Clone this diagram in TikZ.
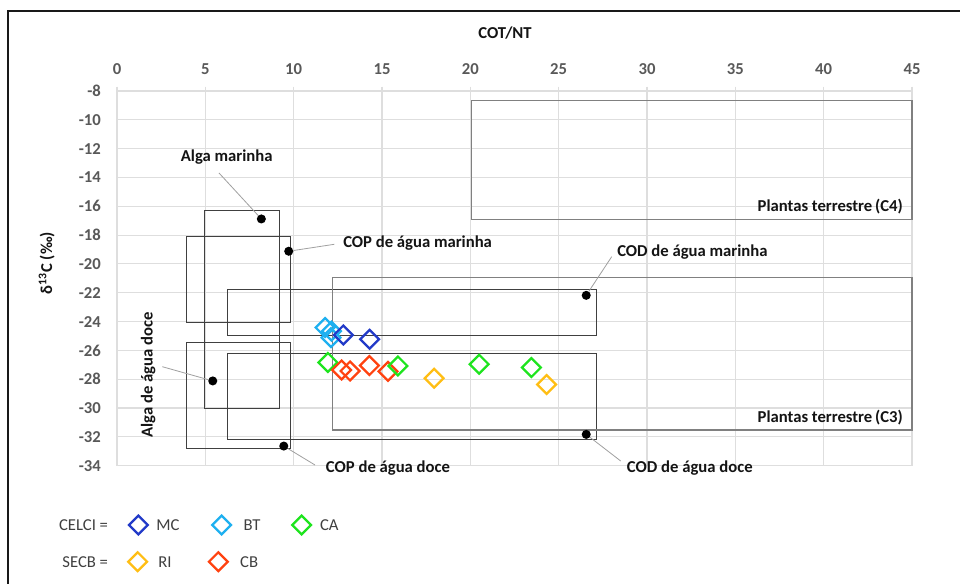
\documentclass[tikz,border=0pt]{standalone}
\usepackage{fontspec}
\setmainfont{Carlito}
\usetikzlibrary{shapes.geometric}
\definecolor{gridc}{RGB}{222,222,222}
\definecolor{tickc}{RGB}{89,89,89}
\definecolor{leadc}{RGB}{160,160,160}
\definecolor{mcc}{RGB}{34,58,200}
\definecolor{btc}{RGB}{30,176,240}
\definecolor{cac}{RGB}{30,228,30}
\definecolor{ric}{RGB}{255,190,20}
\definecolor{cbc}{RGB}{255,66,16}
\tikzset{
  gridline/.style={draw=gridc, line width=0.8pt},
  srcbox/.style={draw=black!75, line width=0.75pt},
  plantbox/.style={draw=black!50, line width=1.1pt},
  dot/.style={circle, fill=black, inner sep=0pt, minimum size=6.8pt},
  leader/.style={draw=leadc, line width=0.6pt},
  lab/.style={font=\fontsize{12.5}{15}\selectfont\bfseries, text=black!92, inner sep=0pt},
  tick/.style={font=\fontsize{12.5}{15}\selectfont\bfseries, text=tickc, inner sep=0pt},
  leglab/.style={font=\fontsize{12.5}{15}\selectfont, text=black!75, inner sep=0pt},
  diam/.style={diamond, aspect=1, inner sep=0pt, minimum width=14.8pt, minimum height=14.8pt, line width=1.7pt, fill=none},
}
\begin{document}
\begin{tikzpicture}[x=0.75pt, y=-0.75pt]
\useasboundingbox (0,0) rectangle (960,584);
\fill[white] (0,0) rectangle (960,584);
% outer frame
\draw[line width=1.6pt, black!90] (8,584) -- (8,11) -- (960,11);

% plot in data coordinates: x = COT/NT, y = delta13C
\begin{scope}[shift={(117,-24.28)}, x=13.25pt, y=10.8075pt]
  \foreach \gx in {0,5,...,45} \draw[gridline] (\gx,-7.7) -- (\gx,-34);
  \foreach \gy in {-8,-10,...,-34} \draw[gridline] (0,\gy) -- (45,\gy);
  \foreach \gx in {0,5,...,45} \node[tick] (xt\gx) at (\gx,-6.47) {\gx};
  \foreach \gy in {-8,-10,...,-34} \node[tick, anchor=east] (yt\gy) at (-0.9,\gy) {\gy};

  % source ranges
  \draw[plantbox] (20.08,-8.67) rectangle (45,-16.9);
  \draw[srcbox] (4.94,-16.28) rectangle (9.19,-30.0);
  \draw[srcbox] (3.92,-18.13) rectangle (9.83,-24.05);
  \draw[srcbox] (3.92,-25.47) rectangle (9.83,-32.82);
  \draw[srcbox] (6.23,-21.76) rectangle (27.14,-24.95);
  \draw[srcbox] (6.23,-26.2) rectangle (27.14,-32.17);
  \draw[plantbox] (12.19,-20.96) rectangle (45,-31.53);

  % end-member means
  \node[dot] (am)  at (8.17,-16.88) {};
  \node[dot] (cpm) at (9.72,-19.12) {};
  \node[dot] (cdm) at (26.56,-22.18) {};
  \node[dot] (ad)  at (5.42,-28.12) {};
  \node[dot] (cpd) at (9.44,-32.64) {};
  \node[dot] (cdd) at (26.56,-31.83) {};

  % samples
  \node[diam, draw=btc] (bt1) at (11.78,-24.42) {};
  \node[diam, draw=btc] (bt2) at (12.14,-24.66) {};
  \node[diam, draw=btc] (bt3) at (12.11,-25.11) {};
  \node[diam, draw=mcc] (mc1) at (12.81,-24.93) {};
  \node[diam, draw=mcc] (mc2) at (14.3,-25.23) {};
  \node[diam, draw=cac] (ca1) at (11.94,-26.84) {};
  \node[diam, draw=cbc] (cb1) at (12.71,-27.36) {};
  \node[diam, draw=cbc] (cb2) at (13.19,-27.43) {};
  \node[diam, draw=cbc] (cb3) at (14.29,-27.05) {};
  \node[diam, draw=cbc] (cb4) at (15.34,-27.46) {};
  \node[diam, draw=cac] (ca2) at (15.9,-27.08) {};
  \node[diam, draw=ric] (ri1) at (17.95,-27.93) {};
  \node[diam, draw=cac] (ca3) at (20.5,-26.96) {};
  \node[diam, draw=cac] (ca4) at (23.46,-27.19) {};
  \node[diam, draw=ric] (ri2) at (24.32,-28.37) {};
\end{scope}

% axis titles
\node[lab] (xtitle) at (505,33) {COT/NT};
\node[lab, rotate=90] (ytitle) at (46.7,263) {δ\textsuperscript{13}C (‰)};

% range labels
\node[lab, anchor=east] (c4lab) at (903,206.7) {Plantas terrestre\,(C4)};
\node[lab, anchor=east] (c3lab) at (903,417.3) {Plantas terrestre\,(C3)};

% end-member labels and leaders
\node[lab] (amlab) at (226.7,156.7) {Alga marinha};
\coordinate (amlead) at (219,173);
\draw[leader] (amlead) -- (am);

\node[lab, anchor=west] (cpmlab) at (343,243.5) {COP de água marinha};
\coordinate (cpmlead) at (334.3,244.3);
\draw[leader] (cpmlead) -- (cpm);

\node[lab, anchor=west] (cdmlab) at (617,252.5) {COD de água marinha};
\coordinate (cdmlead) at (611.7,256.7);
\draw[leader] (cdmlead) -- (cdm);

\node[lab, rotate=90] (adlab) at (148.3,375) {Alga de água doce};
\coordinate (adlead) at (162.3,366.7);
\draw[leader] (adlead) -- (ad);

\node[lab, anchor=west] (cpdlab) at (325.7,468.3) {COP de água doce};
\coordinate (cpdlead) at (315,465);
\draw[leader] (cpdlead) -- (cpd);

\node[lab, anchor=west] (cddlab) at (626.7,467.7) {COD de água doce};
\coordinate (cddlead) at (620.7,461);
\draw[leader] (cddlead) -- (cdd);

% legend
\node[leglab, anchor=east] (celci) at (108.3,525) {CELCI =};
\node[diam, draw=mcc] (lgmc) at (138.3,525) {};
\node[leglab] (lgmct) at (168,525) {MC};
\node[diam, draw=btc] (lgbt) at (221.7,525) {};
\node[leglab] (lgbtt) at (252,525) {BT};
\node[diam, draw=cac] (lgca) at (301.7,525) {};
\node[leglab] (lgcat) at (329.3,525) {CA};

\node[leglab, anchor=east] (secb) at (108.3,561.7) {SECB =};
\node[diam, draw=ric] (lgri) at (137.7,561.7) {};
\node[leglab] (lgrit) at (165,561.7) {RI};
\node[diam, draw=cbc] (lgcb) at (218.3,561.7) {};
\node[leglab] (lgcbt) at (249.2,561.7) {CB};
\end{tikzpicture}
\end{document}
